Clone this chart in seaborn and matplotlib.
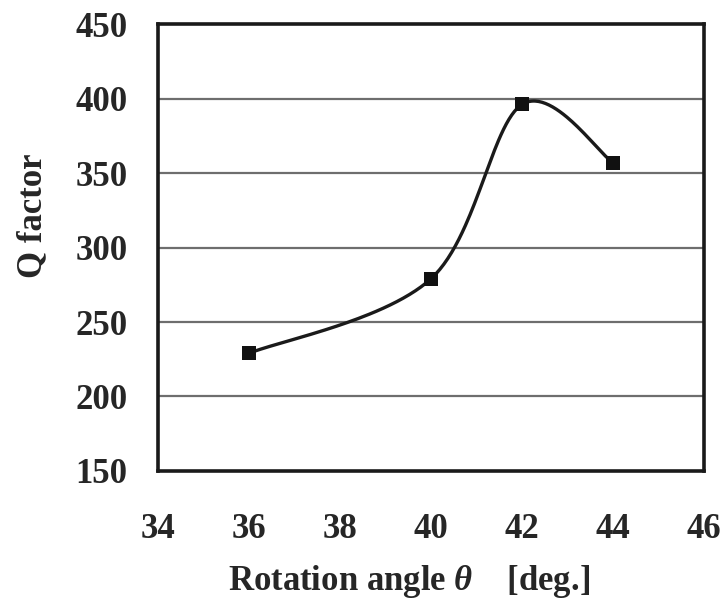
import numpy as np
import pandas as pd
import matplotlib
matplotlib.use("Agg")
import matplotlib.pyplot as plt
import seaborn as sns

# datos
angulo = [36, 40, 42, 44]
q_factor = [229, 279, 396, 357]
x_ticks = [34, 36, 38, 40, 42, 44, 46]
y_ticks = [150, 200, 250, 300, 350, 400, 450]

sns.set_style("white")
plt.rcParams["font.family"] = ["Liberation Serif", "DejaVu Serif"]
plt.rcParams["font.weight"] = "bold"
plt.rcParams["mathtext.fontset"] = "custom"
plt.rcParams["mathtext.it"] = "Liberation Serif:italic:bold"
plt.rcParams["mathtext.rm"] = "Liberation Serif:bold"

df = pd.DataFrame({"Angle": angulo, "Q": q_factor})

#curva suavizada tipo Excel (bezier con puntos de control catmull-rom)
pts = df[["Angle", "Q"]].to_numpy(dtype=float)
n = len(pts)
curve = []
t = np.linspace(0, 1, 60)
for i in range(n - 1):
    p0 = pts[max(i - 1, 0)]
    p1 = pts[i]
    p2 = pts[i + 1]
    p3 = pts[min(i + 2, n - 1)]
    c1 = p1 + (p2 - p0) / 6
    c2 = p2 - (p3 - p1) / 6
    seg = ((1 - t) ** 3)[:, None] * p1 + (3 * (1 - t) ** 2 * t)[:, None] * c1 \
        + (3 * (1 - t) * t ** 2)[:, None] * c2 + (t ** 3)[:, None] * p2
    curve.append(seg)
curve = np.vstack(curve)
df_curve = pd.DataFrame({"Angle": curve[:, 0], "Q": curve[:, 1]})

fig = plt.figure(figsize=(7.26, 6.05), dpi=100)
ax = fig.add_axes([0.2176, 0.2215, 0.752, 0.7388])

for yv in y_ticks[1:-1]:
    ax.axhline(yv, color="#6e6e6e", lw=1.6, zorder=0)

sns.lineplot(data=df_curve, x="Angle", y="Q", sort=False, color="#1a1a1a", lw=2.4, ax=ax)
sns.scatterplot(data=df, x="Angle", y="Q", marker="s", s=95, color="#111111",
                edgecolor="#111111", linewidth=0, zorder=5, ax=ax)

ax.set_xlim(34, 46)
ax.set_ylim(150, 450)
ax.set_xticks(x_ticks)
ax.set_yticks(y_ticks)
ax.set_xticklabels([str(v) for v in x_ticks], fontsize=25, fontweight="bold")
ax.set_yticklabels([str(v) for v in y_ticks], fontsize=25, fontweight="bold")
ax.tick_params(axis="x", direction="in", length=7, width=1.3, pad=30, color="#222222")
ax.tick_params(axis="y", length=0, pad=22)

for sp in ax.spines.values():
    sp.set_color("#1a1a1a")
    sp.set_linewidth(2.6)

ax.set_xlabel(r"Rotation angle $\theta$    [deg.]", fontsize=25, fontweight="bold")
ax.set_ylabel("Q factor", fontsize=25, fontweight="bold")
ax.xaxis.set_label_coords(0.46, -0.205)
ax.yaxis.set_label_coords(-0.2, 0.57)

fig.savefig("out.png", dpi=100)
